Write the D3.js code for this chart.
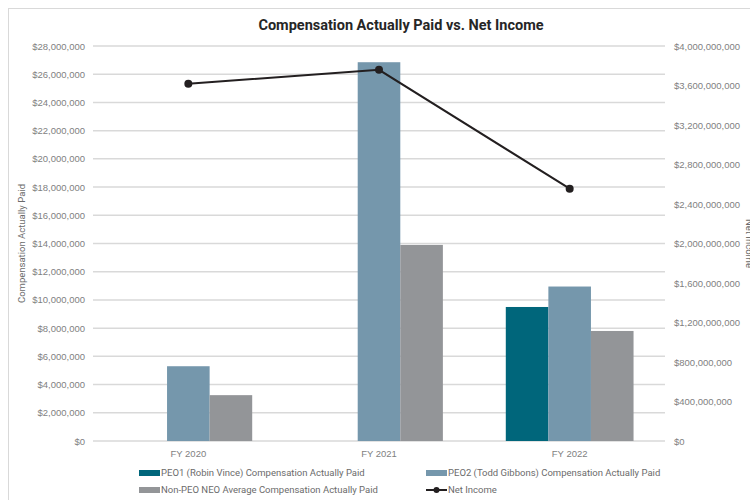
<!DOCTYPE html>
<html>
<head>
<meta charset="utf-8">
<script src="https://cdn.jsdelivr.net/npm/d3@7"></script>
<style>
  body { margin: 0; background: #fff; }
  svg { font-family: Roboto, "Noto Sans", sans-serif; }
  .axis text { fill: #7f7f7f; font-size: 9.5px; }
  .axis path, .axis line { display: none; }
  .grid line { stroke: #d9d9d9; stroke-width: 1.5; }
  .legend text { fill: #6b6b6b; font-size: 9.5px; }
</style>
</head>
<body>
<div id="chart"></div>
<script>
// chart values
const years = ["FY 2020", "FY 2021", "FY 2022"];
const peo1Cap = [null, null, 9500000];
const peo2Cap = [5300000, 26850000, 10950000];
const nonPeoCap = [3250000, 13900000, 7800000];
const netIncome = [3617000000, 3759000000, 2555000000];
const leftTicks = [0, 2e6, 4e6, 6e6, 8e6, 10e6, 12e6, 14e6, 16e6, 18e6, 20e6, 22e6, 24e6, 26e6, 28e6];
const rightTicks = [0, 4e8, 8e8, 12e8, 16e8, 20e8, 24e8, 28e8, 32e8, 36e8, 40e8];

const seriesNames = [
    "PEO1 (Robin Vince) Compensation Actually Paid",
    "PEO2 (Todd Gibbons) Compensation Actually Paid",
    "Non-PEO NEO Average Compensation Actually Paid"
];
const seriesValues = [peo1Cap, peo2Cap, nonPeoCap];
const colors = ["#00667b", "#7597ac", "#939598"];

const W = 750, H = 500;
const margin = {top: 46, right: 85, bottom: 59, left: 93};
const width = W - margin.left - margin.right;
const height = H - margin.top - margin.bottom;

const svg = d3.select("#chart").append("svg")
    .attr("width", W)
    .attr("height", H);

// outer frame
svg.append("rect")
    .attr("x", 8.5).attr("y", 8.5)
    .attr("width", W).attr("height", H)
    .attr("fill", "none")
    .attr("stroke", "#d9d9d9");

// title
svg.append("text")
    .attr("x", 401).attr("y", 30)
    .attr("text-anchor", "middle")
    .attr("font-size", "14.5px")
    .attr("font-weight", "bold")
    .attr("fill", "#262626")
    .text("Compensation Actually Paid vs. Net Income");

const g = svg.append("g")
    .attr("transform", `translate(${margin.left}, ${margin.top})`);

// scales
const x0 = d3.scaleBand().domain(years).range([0, width]);
const bw = x0.bandwidth();
const x1 = d3.scaleBand()
    .domain(d3.range(seriesNames.length))
    .range([bw * 0.165, bw * 0.835]);
const y = d3.scaleLinear().domain([0, 28e6]).range([height, 0]);
const y2 = d3.scaleLinear().domain([0, 4e9]).range([height, 0]);

// gridlines
g.append("g").attr("class", "grid")
    .selectAll("line")
    .data(leftTicks)
    .join("line")
    .attr("x1", 0).attr("x2", width)
    .attr("y1", d => y(d)).attr("y2", d => y(d));

// axes
g.append("g").attr("class", "axis y-left")
    .call(d3.axisLeft(y).tickValues(leftTicks).tickSize(0).tickPadding(8)
        .tickFormat(d => "$" + d3.format(",")(d)));
g.append("g").attr("class", "axis y-right")
    .attr("transform", `translate(${width}, 0)`)
    .call(d3.axisRight(y2).tickValues(rightTicks).tickSize(0).tickPadding(9)
        .tickFormat(d => "$" + d3.format(",")(d)));
g.append("g").attr("class", "axis x-axis")
    .attr("transform", `translate(0, ${height})`)
    .call(d3.axisBottom(x0).tickSize(0).tickPadding(9));

// axis titles
svg.append("text")
    .attr("transform", `translate(25, ${margin.top + height / 2}) rotate(-90)`)
    .attr("text-anchor", "middle")
    .attr("font-size", "9.5px")
    .attr("fill", "#6b6b6b")
    .text("Compensation Actually Paid");
svg.append("text")
    .attr("transform", `translate(746, ${margin.top + height / 2}) rotate(90)`)
    .attr("text-anchor", "middle")
    .attr("font-size", "9.5px")
    .attr("fill", "#6b6b6b")
    .text("Net Income");

// bars
seriesValues.forEach((vals, i) => {
    g.append("g")
        .selectAll("rect")
        .data(years.map((yr, j) => ({year: yr, value: vals[j]})).filter(d => d.value != null))
        .join("rect")
        .attr("x", d => x0(d.year) + x1(i))
        .attr("width", x1.bandwidth())
        .attr("y", d => y(d.value))
        .attr("height", d => height - y(d.value))
        .attr("fill", colors[i]);
});

// net income line
const lineData = years.map((yr, j) => ({year: yr, value: netIncome[j]}));
g.append("path")
    .datum(lineData)
    .attr("fill", "none")
    .attr("stroke", "#231f20")
    .attr("stroke-width", 2)
    .attr("d", d3.line()
        .x(d => x0(d.year) + bw / 2)
        .y(d => y2(d.value)));
g.selectAll(".ni-dot")
    .data(lineData)
    .join("circle")
    .attr("class", "ni-dot")
    .attr("cx", d => x0(d.year) + bw / 2)
    .attr("cy", d => y2(d.value))
    .attr("r", 4)
    .attr("fill", "#231f20");

// legend
const legendItems = [
    {name: seriesNames[0], color: colors[0], type: "bar", x: 139, y: 473},
    {name: seriesNames[1], color: colors[1], type: "bar", x: 426, y: 473},
    {name: seriesNames[2], color: colors[2], type: "bar", x: 139, y: 490},
    {name: "Net Income", color: "#231f20", type: "line", x: 426, y: 490}
];
const legend = svg.append("g").attr("class", "legend");
legendItems.forEach(it => {
    const lg = legend.append("g").attr("transform", `translate(${it.x}, ${it.y})`);
    if (it.type === "bar") {
        lg.append("rect").attr("x", 0).attr("y", -3).attr("width", 21).attr("height", 6).attr("fill", it.color);
    } else {
        lg.append("line").attr("x1", 0).attr("x2", 21).attr("y1", 0).attr("y2", 0)
            .attr("stroke", it.color).attr("stroke-width", 2);
        lg.append("circle").attr("cx", 10.5).attr("cy", 0).attr("r", 3).attr("fill", it.color);
    }
    lg.append("text").attr("x", 22).attr("y", 0).attr("dy", "0.35em").text(it.name);
});
</script>
</body>
</html>
